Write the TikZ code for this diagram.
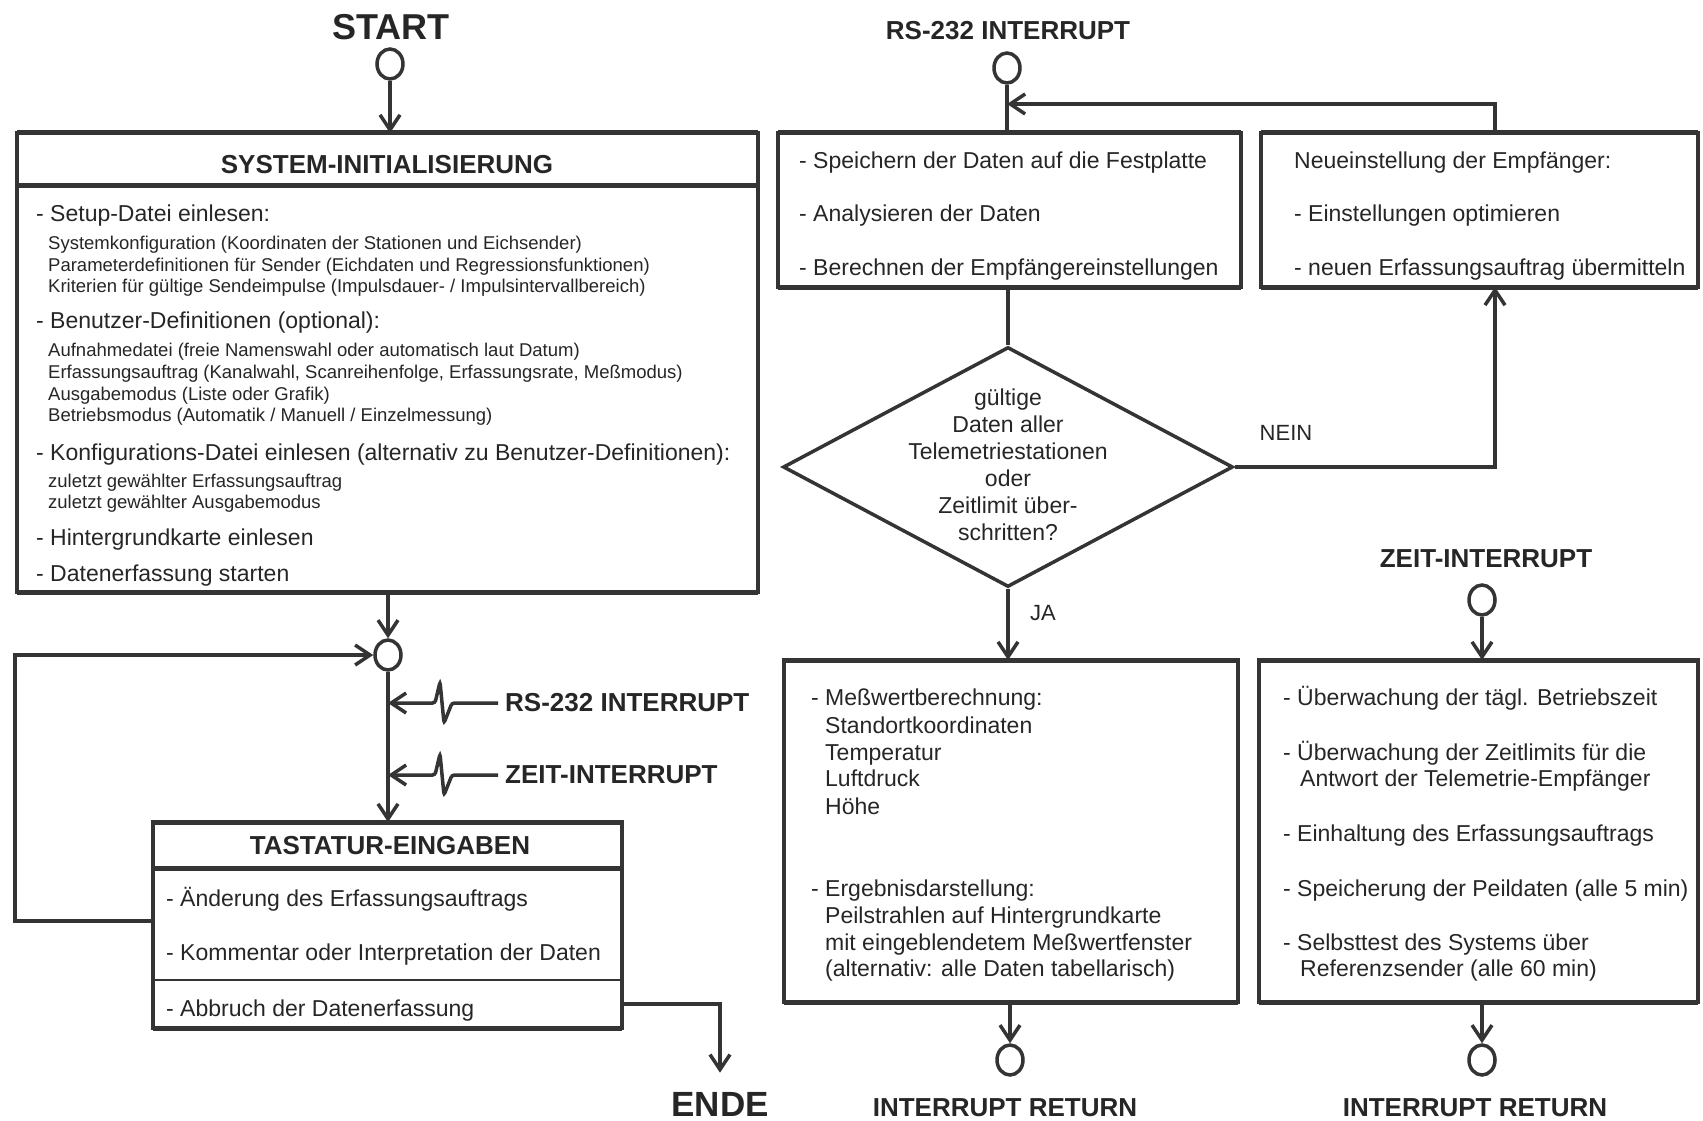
\documentclass[tikz,border=0pt]{standalone}
\usepackage{fontspec}
\setmainfont{Liberation Sans}
\usetikzlibrary{arrows.meta,shapes.geometric,calc}
\definecolor{ink}{RGB}{52,52,52}
\definecolor{txt}{RGB}{38,38,38}
\begin{document}
\begin{tikzpicture}[x=1pt,y=-1pt,
  ln/.style={draw=ink,line width=3.5pt},
  arr/.style={ln,-{Straight Barb[length=15pt,width=20pt]}},
  box/.style={draw=ink,line width=3.2pt,rectangle,inner sep=0pt,outer sep=0pt},
  edge/.style={draw=ink,line width=5pt},
  thin/.style={draw=ink,line width=2pt},
  termc/.style={draw=ink,line width=3.5pt,ellipse,minimum width=26pt,minimum height=30pt,inner sep=0pt},
  ttl/.style={font=\bfseries\fontsize{26}{30}\selectfont,text=txt,inner sep=0pt},
  bigttl/.style={font=\bfseries\fontsize{36}{40}\selectfont,text=txt,inner sep=0pt},
  med/.style={font=\fontsize{23}{27}\selectfont,text=txt,anchor=base west,inner sep=0pt},
  sml/.style={font=\fontsize{18.5}{21.7}\selectfont,text=txt,anchor=base west,inner sep=0pt},
  lbl/.style={font=\fontsize{22}{26}\selectfont,text=txt,inner sep=0pt}]
\fill[white] (0,0) rectangle (1703,1121);
\useasboundingbox (0,0) rectangle (1703,1121);

% ---------- main program ----------
\node[bigttl] (st) at (391,27.5) {START};
\node[termc] (s0) at (390,64) {};
\node[box,minimum width=741pt,minimum height=459pt] (sys) at (387.5,362.5) {};
\draw[edge] (sys.west |- 0,185) -- (sys.east |- 0,185);
\node[ttl] (systtl) at (387,165) {SYSTEM-INITIALISIERUNG};

\node[med] (y1) at (36,221) {- Setup-Datei einlesen:};
\node[sml] (y2) at (48,249.5) {Systemkonfiguration (Koordinaten der Stationen und Eichsender)};
\node[sml] (y3) at (48,271.5) {Parameterdefinitionen für Sender (Eichdaten und Regressionsfunktionen)};
\node[sml] (y4) at (48,292.5) {Kriterien für gültige Sendeimpulse (Impulsdauer- / Impulsintervallbereich)};
\node[med] (y5) at (36,328) {- Benutzer-Definitionen (optional):};
\node[sml] (y6) at (48,356.5) {Aufnahmedatei (freie Namenswahl oder automatisch laut Datum)};
\node[sml] (y7) at (48,378.5) {Erfassungsauftrag (Kanalwahl, Scanreihenfolge, Erfassungsrate, Meßmodus)};
\node[sml] (y8) at (48,400.5) {Ausgabemodus (Liste oder Grafik)};
\node[sml] (y9) at (48,421.5) {Betriebsmodus (Automatik / Manuell / Einzelmessung)};
\node[med] (y10) at (36,460) {- Konfigurations-Datei einlesen (alternativ zu Benutzer-Definitionen):};
\node[sml] (y11) at (48,487.5) {zuletzt gewählter Erfassungsauftrag};
\node[sml] (y12) at (48,508.5) {zuletzt gewählter Ausgabemodus};
\node[med] (y13) at (36,545) {- Hintergrundkarte einlesen};
\node[med] (y14) at (36,581) {- Datenerfassung starten};

\node[termc] (m) at (388,655) {};

\node[box,minimum width=469pt,minimum height=206pt] (T) at (387.5,925) {};
\draw[edge] (T.west |- 0,868) -- (T.east |- 0,868);
\draw[thin] (T.west |- 0,980) -- (T.east |- 0,980);
\node[ttl] (ttltast) at (390,846) {TASTATUR-EINGABEN};
\node[med] (t1) at (166,906) {- Änderung des Erfassungsauftrags};
\node[med] (t2) at (166,960) {- Kommentar oder Interpretation der Daten};
\node[med] (t3) at (166,1016) {- Abbruch der Datenerfassung};

\node[bigttl,font=\bfseries\fontsize{35}{40}\selectfont,anchor=base] (ende) at (720,1116) {ENDE};

\node[ttl,anchor=west] (irs) at (505,703) {RS-232 INTERRUPT};
\node[ttl,anchor=west] (izt) at (505,775) {ZEIT-INTERRUPT};

% ---------- RS-232 interrupt routine ----------
\node[ttl] (rs1) at (1008,31) {RS-232 INTERRUPT};
\node[termc] (r1) at (1007,68) {};
\coordinate (jn) at (1007,104);
\node[box,minimum width=463pt,minimum height=154pt] (A) at (1009.5,210) {};
\node[box,minimum width=437pt,minimum height=154pt] (B) at (1479.5,210) {};
\node[med] (a1) at (799,168) {- Speichern der Daten auf die Festplatte};
\node[med] (a2) at (799,221) {- Analysieren der Daten};
\node[med] (a3) at (799,275) {- Berechnen der Empfängereinstellungen};
\node[med] (b1) at (1294,168) {Neueinstellung der Empfänger:};
\node[med] (b2) at (1294,221) {- Einstellungen optimieren};
\node[med] (b3) at (1294,275) {- neuen Erfassungsauftrag übermitteln};

\node[diamond,draw=ink,line width=3.5pt,minimum width=450pt,minimum height=240pt,inner sep=0pt] (dia) at (1008,467) {};
\node[font=\fontsize{23}{27}\selectfont,text=txt,align=center,inner sep=0pt] (dq) at (1008,465)
  {gültige\\Daten aller\\Telemetriestationen\\oder\\Zeitlimit über-\\schritten?};
\node[lbl] (nein) at (1286,433) {NEIN};
\node[lbl] (ja) at (1043,613) {JA};

\node[box,minimum width=454pt,minimum height=342pt] (C) at (1011,831) {};
\node[med] (c1) at (811,705) {- Meßwertberechnung:};
\node[med] (c2) at (825,733) {Standortkoordinaten};
\node[med] (c3) at (825,760) {Temperatur};
\node[med] (c4) at (825,786) {Luftdruck};
\node[med] (c5) at (825,814) {Höhe};
\node[med] (c6) at (811,896) {- Ergebnisdarstellung:};
\node[med] (c7) at (825,923) {Peilstrahlen auf Hintergrundkarte};
\node[med] (c8) at (825,950) {mit eingeblendetem Meßwertfenster};
\node[med] (c9) at (825,976) {(alternativ: alle Daten tabellarisch)};
\node[termc] (rc) at (1010,1060) {};
\node[ttl] (rr1) at (1005,1108) {INTERRUPT RETURN};

% ---------- timer interrupt routine ----------
\node[ttl] (zt) at (1486,559) {ZEIT-INTERRUPT};
\node[termc] (z1) at (1482,600) {};
\node[box,minimum width=439pt,minimum height=342pt] (D) at (1478.5,831) {};
\node[med] (d1) at (1283,705) {- Überwachung der tägl. Betriebszeit};
\node[med] (d2) at (1283,760) {- Überwachung der Zeitlimits für die};
\node[med] (d3) at (1300,786) {Antwort der Telemetrie-Empfänger};
\node[med] (d4) at (1283,841) {- Einhaltung des Erfassungsauftrags};
\node[med] (d5) at (1283,896) {- Speicherung der Peildaten (alle 5 min)};
\node[med] (d6) at (1283,950) {- Selbsttest des Systems über};
\node[med] (d7) at (1300,976) {Referenzsender (alle 60 min)};
\node[termc] (rd) at (1482,1060) {};
\node[ttl] (rr2) at (1475,1108) {INTERRUPT RETURN};

% heavier top and bottom edges of the boxes
\foreach \b in {sys,T,A,B,C,D}{
  \draw[edge] (\b.north west) -- (\b.north east);
  \draw[edge] (\b.south west) -- (\b.south east);
}

% ---------- connectors ----------
\draw[arr] (s0.south) -- (s0.south |- sys.north);
\draw[arr] (m.north |- sys.south) -- (m.north);
\draw[arr] (m.south) -- (m.south |- T.north);
\draw[arr] ([yshift=4pt]T.west) -- ++(-138,0) |- (m.west);
\draw[arr,rounded corners=2.5pt] ([xshift=-7pt]irs.west) -- ++(-46,0) -- ++(-8,20) -- ++(-4,-41) -- ++(-5,21) -- (m.south |- irs.west);
\draw[arr,rounded corners=2.5pt] ([xshift=-7pt]izt.west) -- ++(-46,0) -- ++(-8,20) -- ++(-4,-41) -- ++(-5,21) -- (m.south |- izt.west);
\draw[arr] ([yshift=-79pt]T.east) -| ([yshift=19pt]ende.north);

\draw[ln] (r1.south) -- (r1.south |- A.north);
\draw[arr] ([xshift=15.5pt]B.north) |- (jn);
\draw[ln] (dia.north |- A.south) -- (dia.north);
\draw[arr] (dia.south) -- (dia.south |- C.north);
\draw[arr] (dia.east) -| ([xshift=15.5pt]B.south);
\draw[arr] (rc.north |- C.south) -- (rc.north);

\draw[arr] (z1.south) -- (z1.south |- D.north);
\draw[arr] (rd.north |- D.south) -- (rd.north);
\end{tikzpicture}
\end{document}
